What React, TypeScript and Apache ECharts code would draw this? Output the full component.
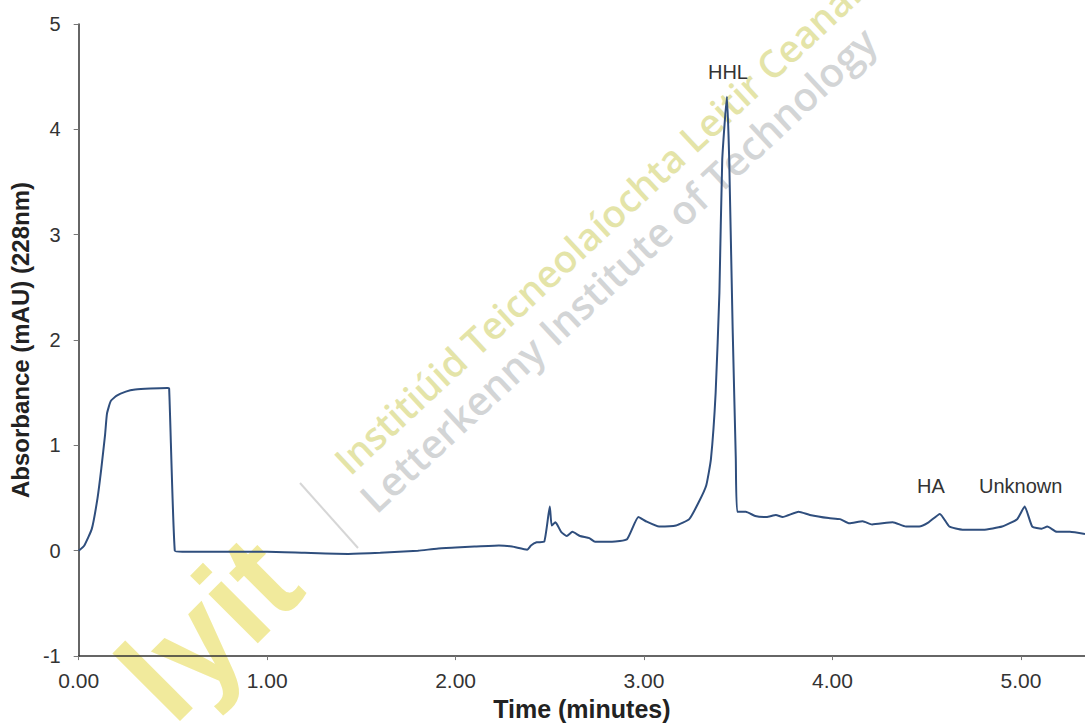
import React, { useEffect, useRef } from "react";
import * as echarts from "echarts";

const timeMin: number[] = [
  0.0, 0.03, 0.07, 0.1, 0.12, 0.14, 0.15, 0.17, 0.2, 0.25, 0.3, 0.38, 0.47, 0.48,
  0.51, 0.55, 0.7, 0.9, 1.0, 1.2, 1.43, 1.6, 1.8, 1.9, 2.0, 2.1, 2.23, 2.3, 2.38,
  2.4, 2.43, 2.47, 2.5, 2.51, 2.53, 2.56, 2.59, 2.62, 2.66, 2.71, 2.74, 2.83, 2.91,
  2.97, 3.01, 3.08, 3.17, 3.24, 3.29, 3.33, 3.355, 3.38, 3.4, 3.415, 3.44, 3.452,
  3.47, 3.487, 3.495, 3.54, 3.59, 3.65, 3.7, 3.735, 3.82, 3.88, 3.98, 4.04, 4.09,
  4.16, 4.21, 4.32, 4.39, 4.46, 4.51, 4.57, 4.62, 4.69, 4.8, 4.9, 4.98, 5.02, 5.06,
  5.11, 5.14, 5.19, 5.26, 5.34,
];

const absorbance: number[] = [
  0.0, 0.05, 0.21, 0.5, 0.78, 1.1, 1.3, 1.42, 1.47, 1.51, 1.53, 1.54, 1.545, 1.54,
  0.0, -0.01, -0.01, -0.01, -0.01, -0.02, -0.03, -0.02, 0.0, 0.02, 0.03, 0.04, 0.05,
  0.04, 0.01, 0.05, 0.08, 0.085, 0.42, 0.24, 0.27, 0.18, 0.14, 0.18, 0.14, 0.12,
  0.085, 0.085, 0.11, 0.32, 0.28, 0.23, 0.24, 0.3, 0.46, 0.62, 0.87, 1.5, 2.45,
  3.71, 4.31, 3.71, 2.13, 0.87, 0.37, 0.37, 0.33, 0.32, 0.34, 0.32, 0.37, 0.34,
  0.31, 0.3, 0.26, 0.28, 0.25, 0.27, 0.23, 0.23, 0.27, 0.35, 0.23, 0.2, 0.2, 0.23,
  0.3, 0.42, 0.23, 0.21, 0.23, 0.18, 0.18, 0.16,
];

const peakNames: string[] = ["HHL", "HA", "Unknown"];
const peakTimes: number[] = [3.44, 4.57, 5.02];
const peakValues: number[] = [4.31, 0.35, 0.42];

const yTicks: number[] = [-1, 0, 1, 2, 3, 4, 5];
const xTickLabels: string[] = ["0.00", "1.00", "2.00", "3.00", "4.00", "5.00"];

const labelOffsets: number[][] = [
  [1, -25],
  [-9, -28],
  [-4, -21],
];

export default function App() {
  const ref = useRef<HTMLDivElement>(null);

  useEffect(() => {
    document.body.style.margin = "0";
    if (!ref.current) return;
    const chart = echarts.init(ref.current, undefined, { renderer: "svg" });
    const seriesData = timeMin.map((t, i) => [t, absorbance[i]]);
    const axisFont = "Arial, 'Liberation Sans', sans-serif";
    const deg = Math.PI / 180;

    chart.setOption({
      animation: false,
      backgroundColor: "#ffffff",
      grid: { left: 78, right: 0, top: 24, bottom: 69, containLabel: false },
      graphic: [
        {
          type: "text",
          x: 188,
          y: 742,
          rotation: 45 * deg,
          z: -10,
          silent: true,
          style: {
            text: "lyit",
            font: "bold 132px Arial, 'Liberation Sans', sans-serif",
            fill: "#f1ea9c",
            align: "left",
            verticalAlign: "bottom",
          },
        },
        {
          type: "line",
          z: -10,
          silent: true,
          shape: { x1: 300, y1: 483, x2: 358, y2: 548 },
          style: { stroke: "#d6d6d6", lineWidth: 2 },
        },
        {
          type: "text",
          x: 340,
          y: 466,
          rotation: 43 * deg,
          z: -10,
          silent: true,
          style: {
            text: "Institiúid Teicneolaíochta Leitir Ceanainn",
            font: "600 38px 'Open Sans', Arial, sans-serif",
            fill: "#e4e4a8",
            align: "left",
            verticalAlign: "middle",
          },
        },
        {
          type: "text",
          x: 366,
          y: 504,
          rotation: 43 * deg,
          z: -10,
          silent: true,
          style: {
            text: "Letterkenny Institute of Technology",
            font: "600 40px 'Open Sans', Arial, sans-serif",
            fill: "#d3d5d6",
            align: "left",
            verticalAlign: "middle",
          },
        },
      ],
      xAxis: {
        type: "value",
        min: 0,
        max: 5.34,
        interval: 1,
        name: "Time (minutes)",
        nameLocation: "middle",
        nameGap: 36,
        nameTextStyle: {
          fontFamily: axisFont,
          fontWeight: "bold",
          fontSize: 25,
          color: "#222",
        },
        axisLine: { onZero: false, lineStyle: { color: "#333", width: 1.5 } },
        axisTick: { show: true, length: 4, lineStyle: { color: "#777" } },
        axisLabel: {
          fontFamily: axisFont,
          fontSize: 21,
          color: "#333",
          margin: 14,
          formatter: (v: number) => xTickLabels[Math.round(v)] ?? "",
          showMaxLabel: false,
        },
        splitLine: { show: false },
      },
      yAxis: {
        type: "value",
        min: yTicks[0],
        max: yTicks[yTicks.length - 1],
        interval: 1,
        name: "Absorbance (mAU) (228nm)",
        nameLocation: "middle",
        nameGap: 46,
        nameTextStyle: {
          fontFamily: axisFont,
          fontWeight: "bold",
          fontSize: 24,
          color: "#222",
        },
        axisLine: { show: true, lineStyle: { color: "#333", width: 1.5 } },
        axisTick: { show: true, length: 5, lineStyle: { color: "#777" } },
        axisLabel: {
          fontFamily: axisFont,
          fontSize: 20,
          color: "#333",
          margin: 18,
        },
        splitLine: { show: false },
      },
      series: [
        {
          type: "line",
          data: seriesData,
          showSymbol: false,
          smooth: 0.15,
          lineStyle: { color: "#2f4e7d", width: 2 },
          markPoint: {
            symbol: "circle",
            symbolSize: 0,
            data: peakNames.map((n, i) => ({
              name: n,
              coord: [peakTimes[i], peakValues[i]],
              label: {
                show: true,
                position: "inside",
                offset: labelOffsets[i],
                fontFamily: axisFont,
                fontSize: 20,
                color: "#333",
                formatter: n,
              },
            })),
          },
        },
      ],
    });

    return () => chart.dispose();
  }, []);

  return <div ref={ref} style={{ width: 1085, height: 726 }} />;
}
